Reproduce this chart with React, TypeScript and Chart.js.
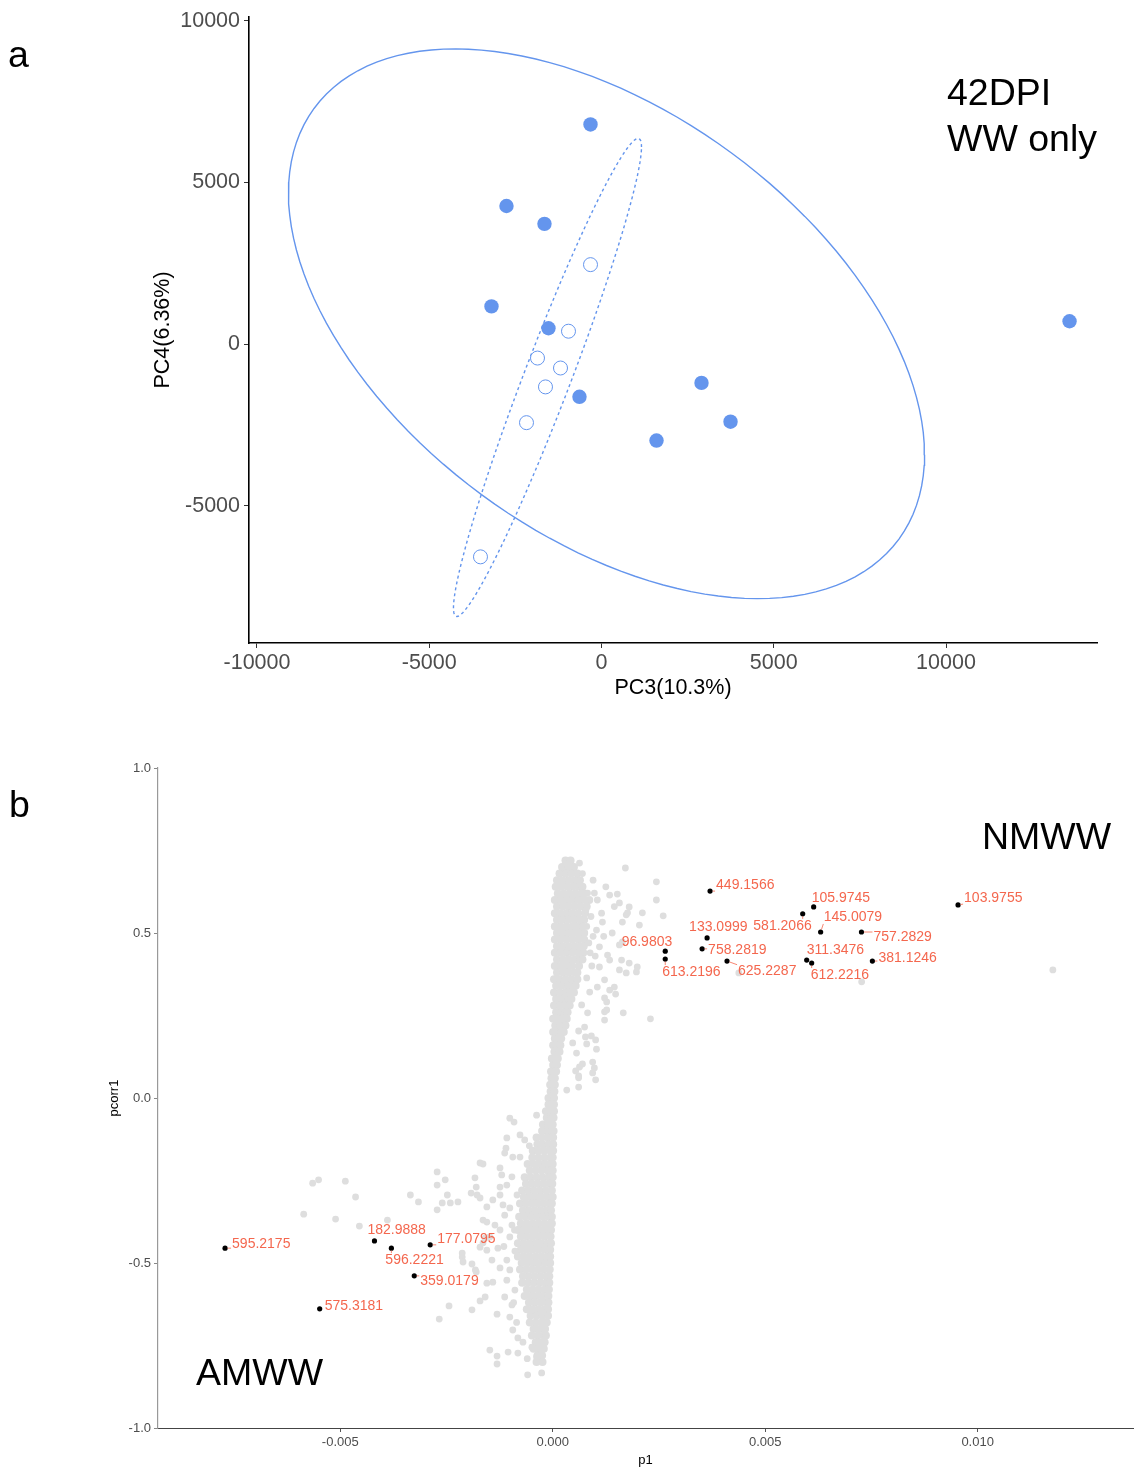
import React, { useEffect, useRef } from "react";
import { Chart, registerables } from "chart.js";
Chart.register(...registerables);

const FONT = "'Liberation Sans', Arial, Helvetica, sans-serif";
Chart.defaults.font.family = FONT;

const BLUE = "#6495ED";
const GRAY = "#dedede";
const LABEL_RED = "#F4674E";

// ---------------- Panel a: PCA scores (PC3 vs PC4) ----------------
const filledPC3 = [-319, -2758, -1655, -3193, -1539, -639, 2903, 3745, 1597, 13586];
const filledPC4 = [6794, 4273, 3720, 1168, 492, -1629, -1199, -2398, -2982, 707];
const openPC3 = [-319, -958, -1858, -1190, -1626, -2177, -3513];
const openPC4 = [2459, 400, -430, -738, -1322, -2428, -6578];

// confidence ellipses (solid = filled group, dashed = open group)
const ellipseCenterPC3 = [145, -1568];
const ellipseCenterPC4 = [630, -1030];
const ellipseRadiusPC3 = [9232, 2729];
const ellipseRadiusPC4 = [8500, 7393];
const ellipsePhase = [2.067, 0.27];

const xTicksA = [-10000, -5000, 0, 5000, 10000];
const yTicksA = [-5000, 0, 5000, 10000];

// ---------------- Panel b: S-plot (p1 vs pcorr1) ----------------
// p1 values below are in units of 1e-3
const labelNames = [
  "449.1566", "105.9745", "581.2066", "103.9755", "145.0079", "757.2829", "133.0999",
  "96.9803", "758.2819", "613.2196", "625.2287", "311.3476", "612.2216", "381.1246",
  "595.2175", "182.9888", "596.2221", "177.0795", "359.0179", "575.3181",
];
const labelP1 = [
  3.703, 6.141, 5.883, 9.539, 6.305, 7.266, 3.633,
  2.648, 3.516, 2.648, 4.102, 5.977, 6.094, 7.523,
  -7.711, -4.195, -3.797, -2.883, -3.258, -5.484,
];
const labelPcorr = [
  0.627, 0.579, 0.558, 0.585, 0.503, 0.503, 0.485,
  0.445, 0.452, 0.421, 0.415, 0.418, 0.409, 0.415,
  -0.455, -0.433, -0.455, -0.445, -0.539, -0.639,
];
// label placement (pixel offset from point, text alignment)
const labelOffsets: [number, number, "left" | "right"][] = [
  [6, -6, "left"], [-2, -9, "left"], [9, 12, "right"], [6, -7, "left"], [3, -15, "left"],
  [12, 5, "left"], [-18, -11, "left"], [7, -9, "right"], [6, 1, "left"], [-3, 13, "left"],
  [11, 10, "left"], [0, -10, "left"], [-1, 12, "left"], [6, -3, "left"],
  [7, -4, "left"], [-7, -11, "left"], [-6, 12, "left"], [7, -6, "left"], [6, 5, "left"], [5, -3, "left"],
];

// dense core of the S-plot, row by row (pcorr level, p1 values x1e-3)
const coreRowPcorr = [
  0.72, 0.70, 0.68, 0.66, 0.64, 0.62, 0.60, 0.58, 0.56, 0.54, 0.52, 0.50, 0.48, 0.46, 0.44, 0.42,
  0.40, 0.38, 0.36, 0.34, 0.32, 0.30, 0.28, 0.26, 0.24, 0.22, 0.20, 0.18, 0.16, 0.14, 0.12, 0.10,
  0.08, 0.06, 0.04, 0.02, 0.00,
  -0.02, -0.04, -0.06, -0.08, -0.10, -0.12, -0.14, -0.16, -0.18, -0.20, -0.22, -0.24, -0.26, -0.28,
  -0.30, -0.32, -0.34, -0.36, -0.38, -0.40, -0.42, -0.44, -0.46, -0.48, -0.50, -0.52, -0.54, -0.56,
  -0.58, -0.60, -0.62, -0.64, -0.66, -0.68, -0.70, -0.72, -0.74, -0.76, -0.78, -0.80,
];
const coreRowP1 = [
  [0.30, 0.42],
  [0.22, 0.36, 0.50],
  [0.16, 0.30, 0.44, 0.58],
  [0.10, 0.24, 0.38, 0.52, 0.64],
  [0.07, 0.20, 0.34, 0.48, 0.60, 0.70],
  [0.12, 0.26, 0.40, 0.54, 0.68, 0.75],
  [0.05, 0.18, 0.32, 0.46, 0.60, 0.74, 0.86],
  [0.10, 0.24, 0.38, 0.52, 0.66, 0.80],
  [0.05, 0.18, 0.32, 0.46, 0.60, 0.76],
  [0.10, 0.24, 0.38, 0.52, 0.66, 0.74],
  [0.05, 0.18, 0.32, 0.46, 0.58, 0.70],
  [0.10, 0.24, 0.38, 0.52, 0.66, 0.74],
  [0.05, 0.18, 0.32, 0.46, 0.60, 0.74],
  [0.10, 0.24, 0.38, 0.52, 0.66, 0.73],
  [0.05, 0.18, 0.32, 0.46, 0.60, 0.72],
  [0.10, 0.24, 0.38, 0.52, 0.64, 0.70],
  [0.05, 0.18, 0.32, 0.46, 0.62],
  [0.10, 0.24, 0.38, 0.52, 0.58],
  [0.03, 0.16, 0.30, 0.44, 0.58],
  [0.08, 0.22, 0.36, 0.48, 0.54],
  [0.03, 0.16, 0.30, 0.42, 0.50],
  [0.08, 0.22, 0.36, 0.44],
  [0.03, 0.16, 0.28, 0.40],
  [0.08, 0.20, 0.30, 0.35],
  [0.01, 0.12, 0.22, 0.33],
  [0.06, 0.17, 0.27, 0.30],
  [0.01, 0.10, 0.20, 0.26],
  [0.05, 0.14, 0.20],
  [0.01, 0.09, 0.18],
  [0.04, 0.12, 0.16],
  [-0.02, 0.06, 0.12],
  [0.01, 0.08, 0.10],
  [-0.04, 0.03, 0.08],
  [-0.03, 0.03, 0.05],
  [-0.06, 0.00, 0.05],
  [-0.05, 0.01, 0.04],
  [-0.10, -0.03, 0.03],
  [-0.10, -0.02, 0.03],
  [-0.16, -0.06, 0.03],
  [-0.14, -0.04, 0.02],
  [-0.23, -0.11, 0.00],
  [-0.25, -0.13, -0.02, 0.02],
  [-0.38, -0.25, -0.12, 0.01],
  [-0.36, -0.24, -0.10, 0.00, 0.01],
  [-0.47, -0.34, -0.20, -0.06, 0.01],
  [-0.48, -0.34, -0.20, -0.06, 0.00],
  [-0.59, -0.45, -0.31, -0.17, -0.04, 0.00],
  [-0.54, -0.40, -0.26, -0.12, -0.02, 0.00],
  [-0.66, -0.52, -0.38, -0.24, -0.10, 0.00],
  [-0.63, -0.49, -0.35, -0.21, -0.07, -0.01],
  [-0.72, -0.58, -0.44, -0.30, -0.16, -0.02],
  [-0.68, -0.54, -0.40, -0.26, -0.12, -0.02, 0.00],
  [-0.77, -0.63, -0.49, -0.35, -0.21, -0.07, -0.02],
  [-0.70, -0.56, -0.42, -0.28, -0.14, -0.04],
  [-0.79, -0.65, -0.51, -0.37, -0.23, -0.09, -0.02],
  [-0.75, -0.61, -0.47, -0.33, -0.19, -0.05, -0.02],
  [-0.82, -0.68, -0.54, -0.40, -0.26, -0.12, -0.04],
  [-0.75, -0.61, -0.47, -0.33, -0.19, -0.05],
  [-0.82, -0.68, -0.54, -0.40, -0.26, -0.12, -0.04],
  [-0.75, -0.61, -0.47, -0.33, -0.19, -0.06],
  [-0.82, -0.68, -0.54, -0.40, -0.26, -0.12, -0.06],
  [-0.73, -0.59, -0.45, -0.31, -0.17, -0.06],
  [-0.77, -0.63, -0.49, -0.35, -0.21, -0.07],
  [-0.70, -0.56, -0.42, -0.28, -0.14, -0.08],
  [-0.72, -0.58, -0.44, -0.30, -0.16, -0.08],
  [-0.61, -0.47, -0.33, -0.19, -0.09],
  [-0.66, -0.52, -0.38, -0.24, -0.10],
  [-0.56, -0.42, -0.28, -0.14, -0.10],
  [-0.61, -0.47, -0.33, -0.19, -0.11],
  [-0.52, -0.38, -0.24, -0.11],
  [-0.54, -0.40, -0.26, -0.14],
  [-0.45, -0.31, -0.18],
  [-0.49, -0.35, -0.21, -0.16],
  [-0.40, -0.26, -0.19],
  [-0.45, -0.33, -0.21],
  [-0.36, -0.25],
  [-0.38, -0.24],
];

// scattered (non-core) variables: p1 (x1e-3)
const scatterP1 = [
  1.71, 2.44, 0.82, 0.98, 1.34, 1.52, 1.05, 1.57, 2.44, 1.80, 2.11, 1.73, 2.60, 1.17, 1.64, 2.04,
  1.03, 1.64, 1.57, 1.10, 1.29, 1.34, 1.62, 1.80, 1.99, 1.97, 1.57, 1.73, 1.10, 4.38, 7.27, 11.77,
  1.45, 1.27, 1.22, 1.66, 2.30, 0.75, 1.01, 0.47, 0.94, 0.98, 0.63, 0.61,
  1.22, 1.34, 1.48, 1.22, 1.27, 1.22, 0.61, 0.77, 0.91, 0.80, 1.03, 0.56, 0.70, 0.54, 0.94, 0.61,
  1.01, 0.61, 0.33, 0.80, 1.05, 0.87, 0.68, 0.82, 0.63, 1.76, 0.75,
  0.90, 0.95, 0.88, 0.92, 0.85, 1.00, 0.80, 0.78, 1.15, 1.20, 1.40, 1.45, 1.25, 0.95, 0.70,
  -1.01, -0.91, -0.38, -1.08, -0.77, -1.10, -1.13, -0.94, -0.77, -1.71, -1.64, -1.24, -1.20, -1.83,
  -2.53, -0.96, -1.08, -1.24, -1.80, -1.92, -2.48, -1.78, -1.71, -2.23, -2.41, -1.41, -1.55, -1.24,
  -1.17, -1.01, -0.84,
  -5.65, -5.51, -4.88, -4.64, -5.86, -5.11, -4.55, -3.89, -3.35, -3.16, -2.72, -2.72, -2.60, -2.72,
  -2.13, -2.11, -1.64, -1.55, -1.48, -1.64, -1.82,
  -1.48, -1.31, -1.31, -1.05, -0.82, -2.44, -2.67, -1.90, -1.71, -1.59, -1.31, -1.55, -1.41, -1.80,
  -1.90, -2.13, -1.55, -1.71, -1.59, -1.24, -1.01, -1.29, -1.08, -1.24, -1.08, -1.13, -1.01, -0.94,
  -0.82, -0.49, -0.38, -0.59, -0.26,
  -0.96, -1.13, -0.89, -1.01, -0.89, -0.96, -1.36, -1.43, -0.66, -0.55, -0.90, -0.92, -0.85, -1.15,
  -0.70, -0.60,
];
// scattered variables: pcorr
const scatterPcorr = [
  0.697, 0.655, 0.621, 0.621, 0.615, 0.618, 0.600, 0.591, 0.600, 0.579, 0.561, 0.555, 0.552, 0.533, 0.533, 0.524,
  0.509, 0.473, 0.464, 0.458, 0.433, 0.418, 0.418, 0.409, 0.397, 0.382, 0.388, 0.379, 0.397, 0.379, 0.352, 0.388,
  0.336, 0.291, 0.261, 0.258, 0.240, 0.215, 0.176, 0.167, 0.109, 0.091, 0.094, 0.067,
  0.358, 0.327, 0.315, 0.303, 0.267, 0.236, 0.203, 0.185, 0.188, 0.164, 0.148, 0.136, 0.103, 0.082, 0.076, 0.061,
  0.055, 0.033, 0.024, 0.364, 0.336, 0.321, 0.282, 0.258, 0.712, 0.561, 0.500,
  0.55, 0.49, 0.44, 0.40, 0.47, 0.43, 0.52, 0.57, 0.56, 0.49, 0.50, 0.58, 0.64, 0.66, 0.68,
  -0.061, -0.073, -0.052, -0.121, -0.112, -0.152, -0.167, -0.179, -0.179, -0.197, -0.200, -0.212, -0.233, -0.242,
  -0.248, -0.239, -0.264, -0.270, -0.270, -0.288, -0.294, -0.294, -0.303, -0.315, -0.318, -0.309, -0.330, -0.294,
  -0.324, -0.333, -0.294,
  -0.258, -0.248, -0.252, -0.300, -0.352, -0.367, -0.388, -0.370, -0.294, -0.315, -0.224, -0.264, -0.318, -0.339,
  -0.482, -0.497, -0.370, -0.376, -0.421, -0.439, -0.521,
  -0.764, -0.782, -0.806, -0.770, -0.773, -0.630, -0.670, -0.642, -0.615, -0.603, -0.655, -0.561, -0.558, -0.527,
  -0.503, -0.470, -0.461, -0.452, -0.424, -0.400, -0.421, -0.455, -0.491, -0.515, -0.552, -0.603, -0.664, -0.703,
  -0.727, -0.755, -0.785, -0.839, -0.833,
  -0.385, -0.355, -0.464, -0.521, -0.582, -0.627, -0.385, -0.491, -0.127, -0.145, -0.40, -0.62, -0.68, -0.45,
  -0.74, -0.79,
];

const xTicksB = [-0.005, 0, 0.005, 0.01];
const yTicksB = [-1, -0.5, 0, 0.5, 1];

function ellipsePoints(i: number) {
  const pts: { x: number; y: number }[] = [];
  const n = 140;
  for (let k = 0; k <= n; k++) {
    const t = (k / n) * 2 * Math.PI;
    pts.push({
      x: ellipseCenterPC3[i] + ellipseRadiusPC3[i] * Math.cos(t),
      y: ellipseCenterPC4[i] + ellipseRadiusPC4[i] * Math.cos(t - ellipsePhase[i]),
    });
  }
  return pts;
}

const labelPlugin = {
  id: "mzLabels",
  afterDatasetsDraw(chart: any) {
    const { ctx } = chart;
    const xs = chart.scales.x;
    const ys = chart.scales.y;
    ctx.save();
    ctx.font = `14px ${FONT}`;
    ctx.fillStyle = LABEL_RED;
    ctx.strokeStyle = LABEL_RED;
    ctx.lineWidth = 0.8;
    ctx.textBaseline = "middle";
    labelNames.forEach((name, i) => {
      const px = xs.getPixelForValue(labelP1[i] * 1e-3);
      const py = ys.getPixelForValue(labelPcorr[i]);
      const [dx, dy, align] = labelOffsets[i];
      const w = ctx.measureText(name).width;
      const ax = px + dx;
      const ay = py + dy;
      const left = align === "right" ? ax - w : ax;
      const right = left + w;
      const top = ay - 6;
      const bottom = ay + 6;
      const nx = Math.max(left, Math.min(px, right));
      const ny = Math.max(top, Math.min(py, bottom));
      const dist = Math.hypot(nx - px, ny - py);
      if (dist > 5) {
        const ux = (nx - px) / dist;
        const uy = (ny - py) / dist;
        ctx.beginPath();
        ctx.moveTo(px + ux * 2.5, py + uy * 2.5);
        ctx.lineTo(nx - ux, ny - uy);
        ctx.stroke();
      }
      ctx.textAlign = align;
      ctx.fillText(name, ax, ay);
    });
    ctx.restore();
  },
};

export default function App() {
  const topRef = useRef<HTMLCanvasElement>(null);
  const botRef = useRef<HTMLCanvasElement>(null);

  useEffect(() => {
    const filled = filledPC3.map((x, i) => ({ x, y: filledPC4[i] }));
    const open = openPC3.map((x, i) => ({ x, y: openPC4[i] }));

    const chartA = new Chart(topRef.current as HTMLCanvasElement, {
      type: "scatter",
      data: {
        datasets: [
          { data: filled, pointRadius: 7.2, backgroundColor: BLUE, borderColor: BLUE, borderWidth: 0 } as any,
          { data: open, pointRadius: 7, backgroundColor: "#ffffff", borderColor: BLUE, borderWidth: 1 } as any,
          {
            data: ellipsePoints(0), showLine: true, borderColor: BLUE, borderWidth: 1.4,
            pointRadius: 0, fill: false, tension: 0,
          } as any,
          {
            data: ellipsePoints(1), showLine: true, borderColor: BLUE, borderWidth: 1.4,
            borderDash: [3, 3], pointRadius: 0, fill: false, tension: 0,
          } as any,
        ],
      },
      options: {
        animation: false,
        responsive: false,
        maintainAspectRatio: false,
        layout: { padding: { top: 13, right: 40, left: 140, bottom: 0 } },
        plugins: { legend: { display: false }, tooltip: { enabled: false } },
        scales: {
          x: {
            type: "linear",
            min: -10232,
            max: 14383,
            afterBuildTicks: (s: any) => { s.ticks = xTicksA.map((v) => ({ value: v })); },
            afterFit: (s: any) => { s.height = 67; },
            grid: { display: true, drawOnChartArea: false, drawTicks: true, tickLength: 5, tickColor: "#333", color: "#333" },
            border: { display: true, color: "#000", width: 1.6 },
            ticks: {
              color: "#4d4d4d", font: { size: 21.5 }, padding: 2, maxRotation: 0, autoSkip: false,
              callback: (v: any) => String(v),
            },
            title: { display: true, text: "PC3(10.3%)", color: "#000", font: { size: 21.5 }, padding: { top: 0, bottom: 9 } },
          },
          y: {
            type: "linear",
            min: -9242,
            max: 10120,
            afterBuildTicks: (s: any) => { s.ticks = yTicksA.map((v) => ({ value: v })); },
            afterFit: (s: any) => { s.width = 109; },
            grid: { display: true, drawOnChartArea: false, drawTicks: true, tickLength: 5, tickColor: "#333", color: "#333" },
            border: { display: true, color: "#000", width: 1.6 },
            ticks: {
              color: "#4d4d4d", font: { size: 21.5 }, padding: 4, autoSkip: false,
              callback: (v: any) => String(v),
            },
            title: { display: true, text: "PC4(6.36%)", color: "#000", font: { size: 21.5 }, padding: { top: 10, bottom: 0 } },
          },
        },
      } as any,
    });

    const labelled = labelP1.map((x, i) => ({ x: x * 1e-3, y: labelPcorr[i] }));
    const scatter = scatterP1.map((x, i) => ({ x: x * 1e-3, y: scatterPcorr[i] }));
    const core: { x: number; y: number }[] = [];
    coreRowP1.forEach((row, r) => row.forEach((x) => core.push({ x: x * 1e-3, y: coreRowPcorr[r] })));

    const chartB = new Chart(botRef.current as HTMLCanvasElement, {
      type: "scatter",
      data: {
        datasets: [
          { data: labelled, pointRadius: 2.6, backgroundColor: "#000", borderWidth: 0 } as any,
          { data: scatter, pointRadius: 3.4, backgroundColor: GRAY, borderWidth: 0 } as any,
          { data: core, pointRadius: 4, backgroundColor: GRAY, borderWidth: 0 } as any,
        ],
      },
      options: {
        animation: false,
        responsive: false,
        maintainAspectRatio: false,
        layout: { padding: { top: 28, right: 0, left: 100, bottom: 0 } },
        plugins: { legend: { display: false }, tooltip: { enabled: false } },
        scales: {
          x: {
            type: "linear",
            min: -0.009289,
            max: 0.013656,
            afterBuildTicks: (s: any) => { s.ticks = xTicksB.map((v) => ({ value: v })); },
            afterFit: (s: any) => { s.height = 40; },
            grid: { display: true, drawOnChartArea: false, drawTicks: true, tickLength: 4, tickColor: "#555", color: "#555" },
            border: { display: true, color: "#444", width: 1 },
            ticks: {
              color: "#4d4d4d", font: { size: 13 }, padding: 3, maxRotation: 0, autoSkip: false,
              callback: (v: any) => Number(v).toFixed(3),
            },
            title: { display: true, text: "p1", color: "#000", font: { size: 13 }, padding: { top: 0, bottom: 0 } },
          },
          y: {
            type: "linear",
            min: -1,
            max: 1,
            afterBuildTicks: (s: any) => { s.ticks = yTicksB.map((v) => ({ value: v })); },
            afterFit: (s: any) => { s.width = 58; },
            grid: { display: true, drawOnChartArea: false, drawTicks: true, tickLength: 4, tickColor: "#888", color: "#888" },
            border: { display: true, color: "#999", width: 1.2 },
            ticks: {
              color: "#4d4d4d", font: { size: 13 }, padding: 3, autoSkip: false,
              callback: (v: any) => Number(v).toFixed(1),
            },
            title: { display: true, text: "pcorr1", color: "#000", font: { size: 13 }, padding: { top: 7, bottom: 0 } },
          },
        },
      } as any,
      plugins: [labelPlugin as any],
    });

    return () => {
      chartA.destroy();
      chartB.destroy();
    };
  }, []);

  const big: React.CSSProperties = {
    position: "absolute", fontFamily: FONT, fontSize: 37.5, lineHeight: "37.5px", color: "#000",
    whiteSpace: "nowrap", margin: 0,
  };

  return (
    <div style={{ position: "absolute", left: 0, top: 0, width: 1137, height: 1468, background: "#fff" }}>
      <canvas ref={topRef} width={1137} height={710}
        style={{ position: "absolute", left: 0, top: 0, width: 1137, height: 710 }} />
      <canvas ref={botRef} width={1137} height={728}
        style={{ position: "absolute", left: 0, top: 740, width: 1137, height: 728 }} />
      <div style={{ ...big, left: 8, top: 36 }}>a</div>
      <div style={{ ...big, left: 947, top: 74 }}>42DPI</div>
      <div style={{ ...big, left: 947, top: 120 }}>WW only</div>
      <div style={{ ...big, left: 9, top: 786 }}>b</div>
      <div style={{ ...big, left: 982, top: 818 }}>NMWW</div>
      <div style={{ ...big, left: 196, top: 1354 }}>AMWW</div>
    </div>
  );
}
